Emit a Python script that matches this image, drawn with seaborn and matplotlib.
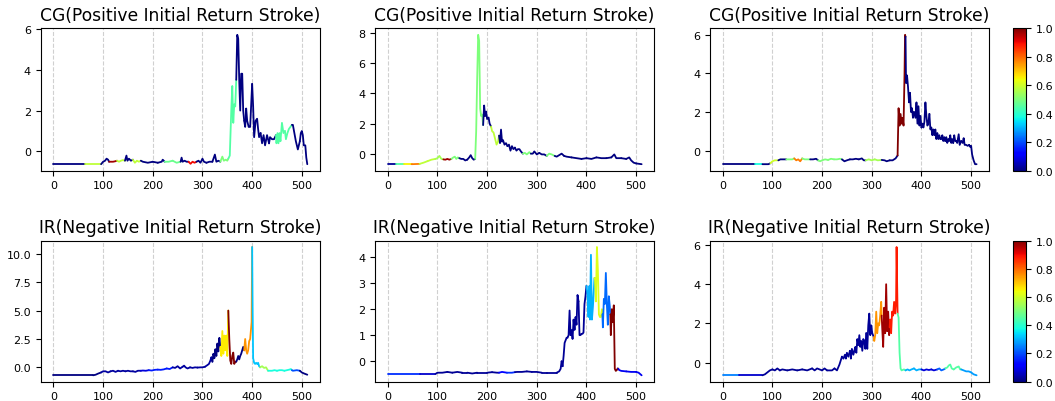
import pandas as pd
import matplotlib
matplotlib.use("Agg")
import matplotlib.pyplot as plt
import seaborn as sns

# 신호 (샘플 index, 값) - 그림에서 읽은 값
cg1_pts = [(0,-0.62),(64,-0.62),(96,-0.62),(100,-0.5),(104,-0.45),(107,-0.35),(110,-0.4),(112,-0.5),(116,-0.5),(120,-0.5),(124,-0.48),(128,-0.45),(132,-0.5),(136,-0.45),(140,-0.42),(144,-0.45),(147,-0.2),(149,-0.45),(152,-0.35),(156,-0.45),(160,-0.4),(164,-0.55),(168,-0.45),(172,-0.5),(176,-0.45),(180,-0.5),(190,-0.55),(200,-0.5),(210,-0.55),(218,-0.5),(220,-0.4),(224,-0.5),(232,-0.5),(240,-0.45),(248,-0.55),(256,-0.5),(258,-0.3),(260,-0.5),(264,-0.45),(268,-0.5),(272,-0.5),(276,-0.6),(280,-0.5),(284,-0.55),(288,-0.5),(292,-0.45),(296,-0.55),(300,-0.35),(303,-0.5),(308,-0.55),(314,-0.5),(320,-0.5),(325,-0.15),(328,-0.5),(332,-0.45),(336,-0.5),(340,-0.25),(343,-0.45),(347,-0.4),(350,-0.45),(352,-0.35),(355,-0.2),(358,2.0),(360,3.2),(362,1.4),(364,2.3),(366,2.2),(368,3.5),(370,5.7),(372,5.5),(374,3.5),(376,2.0),(378,3.8),(380,3.8),(382,2.0),(384,1.5),(386,1.2),(388,2.1),(390,1.5),(393,1.2),(396,1.2),(400,3.3),(402,2.2),(404,0.7),(407,1.5),(410,1.6),(412,1.1),(414,0.7),(417,0.9),(420,0.4),(423,0.8),(426,0.3),(430,0.8),(434,0.4),(436,0.7),(440,0.6),(444,0.6),(448,0.8),(449,0.4),(451,0.9),(453,0.4),(455,0.9),(457,0.5),(460,1.4),(463,0.9),(466,1.0),(468,0.6),(471,0.9),(474,1.1),(477,1.2),(480,1.3),(482,1.3),(485,0.9),(488,0.5),(490,0.3),(492,0.1),(494,0.3),(496,0.5),(498,0.9),(500,1.0),(502,0.8),(504,0.3),(507,0.3),(509,-0.3),(511,-0.62)]
cg2_pts = [(0,-0.7),(16,-0.7),(32,-0.7),(48,-0.7),(64,-0.68),(72,-0.6),(80,-0.5),(88,-0.4),(96,-0.35),(100,-0.3),(104,-0.15),(108,-0.35),(112,-0.38),(116,-0.4),(120,-0.35),(124,-0.4),(128,-0.35),(132,-0.25),(135,-0.2),(138,-0.35),(141,-0.25),(144,-0.3),(148,-0.35),(152,-0.35),(156,-0.45),(160,-0.4),(164,-0.25),(167,-0.1),(170,-0.3),(173,-0.4),(176,-0.35),(178,1.5),(180,5.0),(182,7.9),(184,7.5),(186,3.0),(188,2.5),(190,2.6),(192,1.9),(194,3.2),(196,2.5),(198,2.8),(200,2.3),(203,2.4),(205,2.0),(208,1.8),(210,1.5),(213,1.4),(216,1.0),(219,0.6),(222,0.8),(224,1.2),(226,0.7),(228,1.6),(230,0.8),(232,0.9),(235,0.6),(238,0.7),(241,0.5),(244,0.6),(247,0.2),(250,0.5),(253,0.3),(256,0.4),(259,0.2),(262,0.3),(265,0.3),(268,0.15),(272,0.0),(276,0.05),(280,-0.05),(285,0.1),(288,0.0),(292,0.0),(295,0.15),(300,-0.05),(305,0.05),(310,-0.05),(315,-0.05),(320,-0.15),(325,0.0),(330,-0.05),(336,-0.15),(340,-0.2),(345,-0.1),(350,0.0),(355,-0.15),(360,-0.2),(370,-0.25),(380,-0.3),(390,-0.35),(400,-0.3),(410,-0.35),(420,-0.25),(430,-0.3),(440,-0.3),(450,-0.25),(456,-0.05),(460,-0.3),(470,-0.3),(480,-0.35),(486,-0.25),(490,-0.45),(495,-0.6),(500,-0.65),(511,-0.7)]
cg3_pts = [(0,-0.7),(64,-0.7),(80,-0.7),(92,-0.7),(96,-0.65),(100,-0.55),(105,-0.5),(112,-0.5),(116,-0.45),(120,-0.45),(128,-0.45),(134,-0.45),(140,-0.45),(144,-0.4),(148,-0.5),(152,-0.45),(156,-0.55),(160,-0.4),(165,-0.45),(170,-0.45),(176,-0.45),(182,-0.45),(188,-0.42),(192,-0.5),(196,-0.55),(200,-0.5),(206,-0.45),(212,-0.48),(218,-0.42),(224,-0.45),(230,-0.45),(236,-0.42),(240,-0.45),(245,-0.55),(250,-0.5),(256,-0.45),(262,-0.45),(268,-0.42),(274,-0.45),(280,-0.4),(284,-0.5),(288,-0.5),(294,-0.45),(300,-0.5),(306,-0.45),(312,-0.5),(320,-0.48),(326,-0.5),(330,-0.55),(336,-0.5),(342,-0.5),(348,-0.4),(352,-0.25),(354,2.2),(356,1.3),(358,1.9),(360,1.4),(362,1.7),(364,1.3),(366,4.0),(367,6.0),(368,5.9),(369,3.5),(371,3.9),(373,3.3),(375,2.5),(377,3.0),(379,2.0),(381,2.2),(383,1.7),(385,2.0),(388,1.7),(390,2.5),(392,1.4),(394,2.3),(396,1.3),(398,1.8),(400,1.2),(402,1.4),(404,1.2),(406,1.5),(408,2.5),(410,1.8),(412,1.3),(414,1.4),(416,1.9),(418,1.1),(420,1.2),(422,0.8),(424,1.1),(426,0.8),(428,1.1),(430,0.6),(432,0.9),(434,0.6),(436,0.8),(438,0.6),(440,0.6),(442,0.8),(444,0.5),(446,0.7),(448,0.5),(450,0.7),(452,0.4),(454,0.6),(456,0.5),(458,0.8),(460,0.4),(462,0.6),(464,0.4),(466,0.8),(468,0.5),(470,0.5),(472,0.4),(475,0.85),(477,0.3),(480,0.5),(483,0.4),(485,0.65),(487,0.3),(490,0.3),(493,0.25),(496,0.3),(498,0.2),(500,0.25),(502,-0.2),(505,-0.5),(508,-0.7),(511,-0.7)]
ir1_pts = [(0,-0.7),(80,-0.7),(85,-0.65),(90,-0.55),(96,-0.45),(100,-0.35),(105,-0.35),(110,-0.45),(115,-0.35),(120,-0.3),(125,-0.4),(130,-0.3),(135,-0.35),(140,-0.3),(145,-0.35),(150,-0.3),(155,-0.35),(160,-0.35),(165,-0.4),(170,-0.3),(176,-0.3),(180,-0.28),(186,-0.3),(192,-0.25),(198,-0.28),(204,-0.22),(210,-0.2),(216,-0.22),(222,-0.18),(228,-0.1),(234,-0.15),(240,0.0),(245,-0.05),(250,0.1),(255,-0.1),(260,0.05),(263,0.15),(266,0.0),(270,-0.1),(275,0.0),(280,-0.05),(285,0.0),(290,-0.02),(296,0.0),(300,0.0),(305,0.05),(310,0.2),(313,0.3),(316,0.6),(318,0.9),(320,0.5),(322,1.2),(324,0.8),(326,1.6),(328,1.0),(330,2.1),(332,1.4),(334,2.6),(336,1.8),(338,1.0),(340,3.2),(342,1.2),(344,2.8),(346,1.5),(348,2.8),(350,1.0),(352,5.0),(354,2.5),(356,0.6),(358,0.3),(360,1.0),(362,1.3),(364,0.3),(366,0.5),(368,0.5),(370,0.7),(372,1.0),(374,0.7),(376,1.0),(378,1.2),(380,1.5),(382,1.8),(384,1.5),(386,2.5),(388,1.5),(390,1.2),(392,1.5),(394,2.3),(396,2.5),(399,4.0),(400,10.6),(401,5.0),(402,0.8),(404,0.4),(406,0.3),(408,0.4),(410,0.3),(412,0.4),(414,0.1),(416,0.0),(418,0.05),(420,0.1),(424,-0.05),(428,0.0),(432,-0.3),(440,-0.3),(445,-0.25),(450,-0.3),(455,-0.25),(460,-0.25),(465,-0.3),(470,-0.25),(475,-0.2),(478,-0.15),(480,-0.25),(482,-0.3),(490,-0.25),(496,-0.3),(500,-0.45),(505,-0.55),(511,-0.65)]
ir2_pts = [(0,-0.5),(64,-0.5),(96,-0.5),(100,-0.45),(110,-0.45),(120,-0.42),(130,-0.45),(140,-0.42),(150,-0.45),(160,-0.45),(170,-0.48),(180,-0.45),(190,-0.45),(200,-0.45),(210,-0.43),(220,-0.45),(224,-0.45),(230,-0.42),(240,-0.45),(250,-0.45),(256,-0.43),(260,-0.42),(270,-0.42),(280,-0.4),(290,-0.42),(300,-0.42),(310,-0.45),(320,-0.45),(330,-0.45),(340,-0.45),(345,-0.4),(348,-0.3),(350,0.0),(352,-0.2),(354,0.2),(356,0.7),(358,0.8),(360,0.9),(362,0.9),(364,1.0),(366,1.95),(368,1.0),(370,1.2),(372,0.85),(374,1.6),(376,1.2),(378,1.7),(380,1.4),(382,2.55),(384,2.3),(386,1.0),(388,1.0),(390,1.05),(392,1.05),(394,1.1),(396,2.2),(398,2.5),(400,2.9),(402,2.6),(404,1.7),(406,2.9),(407,1.6),(409,4.1),(411,1.6),(413,2.1),(415,2.8),(416,3.2),(417,3.2),(419,2.3),(421,4.4),(423,3.5),(425,1.8),(427,1.7),(429,1.7),(431,2.0),(432,1.8),(433,1.3),(435,2.4),(437,2.2),(439,3.4),(441,2.2),(443,1.4),(445,2.5),(447,2.1),(448,1.8),(449,1.0),(451,2.0),(453,1.5),(455,2.15),(457,-0.3),(459,-0.38),(461,-0.35),(463,-0.28),(464,-0.3),(466,-0.35),(470,-0.38),(480,-0.4),(490,-0.42),(500,-0.42),(505,-0.45),(511,-0.55)]
ir3_pts = [(0,-0.65),(32,-0.65),(80,-0.65),(85,-0.6),(90,-0.5),(95,-0.4),(100,-0.35),(105,-0.4),(110,-0.3),(115,-0.4),(120,-0.35),(130,-0.4),(140,-0.35),(150,-0.4),(160,-0.35),(170,-0.4),(180,-0.3),(185,-0.4),(190,-0.3),(200,-0.4),(205,-0.3),(210,-0.4),(220,-0.4),(225,-0.3),(230,-0.4),(235,-0.1),(240,0.3),(243,0.2),(246,0.4),(248,0.2),(250,0.5),(253,0.3),(256,0.6),(258,0.2),(260,0.7),(263,0.4),(265,0.6),(267,0.8),(269,0.5),(271,1.2),(273,0.9),(275,1.4),(277,0.8),(279,1.1),(281,0.6),(283,1.2),(285,1.1),(287,0.7),(289,1.5),(291,0.7),(293,1.9),(295,2.5),(297,1.4),(299,1.9),(301,1.5),(304,1.3),(305,1.1),(307,1.4),(309,2.6),(311,1.5),(313,2.0),(315,1.9),(317,2.4),(319,3.1),(320,2.4),(321,1.8),(323,0.8),(325,2.8),(327,1.5),(329,4.0),(331,1.6),(333,2.6),(335,1.4),(336,1.8),(337,2.2),(339,1.5),(341,2.6),(343,2.4),(345,3.1),(347,2.5),(349,3.2),(350,5.9),(352,2.5),(354,2.3),(356,0.5),(358,-0.3),(360,-0.4),(365,-0.35),(368,-0.4),(372,-0.35),(376,-0.4),(380,-0.35),(385,-0.3),(390,-0.4),(395,-0.35),(400,-0.35),(405,-0.4),(410,-0.35),(415,-0.38),(420,-0.35),(425,-0.4),(432,-0.35),(436,-0.3),(440,-0.4),(445,-0.35),(448,-0.3),(452,-0.25),(455,-0.15),(458,-0.1),(461,-0.3),(465,-0.35),(470,-0.25),(475,-0.2),(478,-0.35),(480,-0.35),(485,-0.4),(490,-0.45),(495,-0.45),(500,-0.5),(505,-0.6),(511,-0.65)]

# 16 샘플 구간별 중요도 (0~1)
cg1_attr = [0,0,0,0,.58,.58,0,.97,.58,0,.58,0,0,0,.48,.48,0,.9,0,0,0,.5,.45,0,0,0,0,0,.45,.45,0,0]
cg2_attr = [.02,.45,.65,.78,.58,.58,.55,.97,.5,0,0,.5,0,.58,0,0,0,.5,0,0,.5,0,0,0,0,0,0,0,0,0,0,0]
cg3_attr = [0,0,0,0,.38,0,.6,0,.5,.78,.5,0,.5,.5,.5,0,0,0,.55,.55,0,0,1.0,0,0,0,0,0,0,0,0,0]
ir1_attr = [0,0,0,0,0,0,.03,.03,.03,.03,.03,.08,.15,.15,.15,.03,.03,.03,.03,.03,0,.66,1.0,0,.75,.32,.55,.38,.38,.38,.2,0]
ir2_attr = [.17,.17,.17,.17,.07,.07,.02,.02,.02,.02,.02,.02,.02,.02,.12,.17,.02,.02,.02,.02,.02,.02,.02,.02,.02,.3,.62,.23,1.0,.1,.1,.1]
ir3_attr = [.25,.25,.07,.07,.07] + [.02] * 14 + [.75,.97,.88,.45,.3,.3,.08,.08,.22,.45,.45,.28,.28]

titles = ["CG(Positive Initial Return Stroke)", "IR(Negative Initial Return Stroke)"]
panels = [[(cg1_pts, cg1_attr), (cg2_pts, cg2_attr), (cg3_pts, cg3_attr)],
          [(ir1_pts, ir1_attr), (ir2_pts, ir2_attr), (ir3_pts, ir3_attr)]]

cmap = plt.get_cmap("jet")
norm = matplotlib.colors.Normalize(0, 1)


# 구간별로 선을 나눠서 DataFrame 생성
def chunk_frame(pts, attr):
    rows = []
    for i in range(len(pts) - 1):
        k = int(pts[i][0]) // 16
        for x, y in (pts[i], pts[i + 1]):
            rows.append({"x": x, "y": y, "seg": f"s{k}"})
    df = pd.DataFrame(rows).drop_duplicates()
    pal = {s: cmap(norm(attr[int(s[1:])])) for s in df["seg"].unique()}
    return df, pal


sns.set_style("ticks", {"axes.edgecolor": "black", "text.color": "black",
                        "xtick.color": "black", "ytick.color": "black"})
fig = plt.figure(figsize=(10.55, 4.02), dpi=100)

lefts = [0.0386, 0.3555, 0.673]
width = 0.2647
rows_pos = [(0.573, 0.354), (0.048, 0.351)]

for r, row in enumerate(panels):
    bottom, height = rows_pos[r]
    for c, (pts, attr) in enumerate(row):
        ax = fig.add_axes([lefts[c], bottom, width, height])
        df, pal = chunk_frame(pts, attr)
        sns.lineplot(data=df, x="x", y="y", hue="seg", palette=pal, sort=False,
                     estimator=None, legend=False, linewidth=1.3, ax=ax)
        ax.set_xticks([0, 100, 200, 300, 400, 500])
        ax.grid(axis="x", linestyle="--", color="#d0d0d0", linewidth=0.8)
        ax.set_axisbelow(True)
        ax.set_xlabel("")
        ax.set_ylabel("")
        ax.tick_params(labelsize=8, length=3.5, width=0.8, direction="out")
        ax.set_title(titles[r], fontsize=12.3, color="black")
    # 컬러바
    cax = fig.add_axes([0.9605, bottom, 0.0117, height])
    sm = matplotlib.cm.ScalarMappable(norm=norm, cmap=cmap)
    cb = fig.colorbar(sm, cax=cax)
    cb.set_ticks([0, 0.2, 0.4, 0.6, 0.8, 1.0])
    cb.ax.tick_params(labelsize=8)

fig.savefig("out.png", dpi=100)
